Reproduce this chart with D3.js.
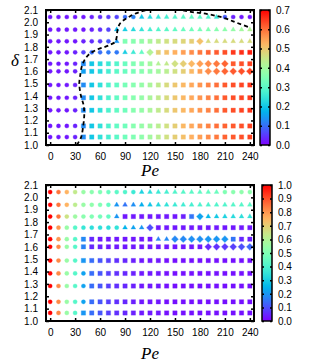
<!DOCTYPE html>
<html>
<head>
<meta charset="utf-8">
<script src="https://cdn.jsdelivr.net/npm/d3@7"></script>
<style>
  body { margin: 0; background: #fff; }
  svg { display: block; }
  .tick text, .cbar text { font-family: "Liberation Sans", Arial, sans-serif; font-size: 10px; fill: #000; }
  .label { font-family: "Liberation Serif", "Times New Roman", serif; font-style: italic; font-size: 17px; }
</style>
</head>
<body>
<svg id="chart" width="311" height="363"></svg>
<script>
// grid of simulations: Pe columns, delta rows (top row first)
const peValues = [0, 10, 20, 30, 40, 50, 60, 70, 80, 90, 100, 110, 120, 130, 140, 150, 160, 170, 180, 190, 200, 210, 220, 230, 240]
const deltaValues = [2.043, 1.94, 1.845, 1.755, 1.662, 1.6, 1.489, 1.385, 1.283, 1.155, 1.065]

const xTicks = [0, 30, 60, 90, 120, 150, 180, 210, 240]
const yTicks = [1.0, 1.1, 1.2, 1.3, 1.4, 1.5, 1.6, 1.7, 1.8, 1.9, 2.0, 2.1]
const cbarTicksTop = [0, 0.1, 0.2, 0.3, 0.4, 0.5, 0.6, 0.7]
const cbarTicksBottom = [0, 0.1, 0.2, 0.3, 0.4, 0.5, 0.6, 0.7, 0.8, 0.9, 1.0]

// marker per point: c circle, t triangle, s square, d diamond
const shapesTop = [
  'ccccc ccccc ctttt ttttt tcccc',
  'ccccc ccctt ttttt ttttt ttttt',
  'ccccc cccts sssss sssdt ttttt',
  'ccccc cccct ttdss sssss sssss',
  'ccccs sssss ssstt ddddd ddsss',
  'ccccs sssss sssss ssssd ddddd',
  'ccccs sssss sssss sssss sssss',
  'ccccs sssss sssss sssss sssss',
  'ccccs sssss sssss sssss sssss',
  'ccccs sssss sssss sssss sssss',
  'ccccs sssss sssss sssss sssss'
]
const shapesBottom = [
  'ccccc ccccc ctttt ttttt tcccc',
  'ccccc ccctt ttttt ttttt ttttt',
  'ccccc cccts sssss sssdt ttttt',
  'ccccc cccct ttdss sssss sssss',
  'ccccs sssss ssstt ddddd ddsss',
  'ccccs sssss sssss ssssd ddddd',
  'ccccs sssss sssss sssss sssss',
  'ccccc sssss sssss sssss sssss',
  'ccccc sssss sssss sssss sssss',
  'ccccc sssss sssss sssss sssss',
  'ccccs sssss sssss sssss sssss'
]

const valuesTop = [
  [0.02, 0.02, 0.02, 0.02, 0.02, 0.03, 0.04, 0.05, 0.06, 0.10, 0.12, 0.20, 0.23, 0.25, 0.27, 0.29, 0.30, 0.31, 0.30, 0.28, 0.25, 0.08, 0.03, 0.02, 0.02],
  [0.02, 0.02, 0.02, 0.02, 0.02, 0.03, 0.04, 0.06, 0.18, 0.21, 0.23, 0.25, 0.27, 0.29, 0.30, 0.31, 0.32, 0.33, 0.34, 0.35, 0.36, 0.37, 0.38, 0.40, 0.42],
  [0.02, 0.02, 0.02, 0.02, 0.03, 0.04, 0.05, 0.08, 0.14, 0.35, 0.36, 0.38, 0.41, 0.44, 0.46, 0.47, 0.48, 0.49, 0.51, 0.47, 0.47, 0.47, 0.47, 0.47, 0.47],
  [0.02, 0.02, 0.02, 0.03, 0.06, 0.10, 0.10, 0.11, 0.11, 0.21, 0.26, 0.31, 0.42, 0.49, 0.51, 0.53, 0.55, 0.57, 0.59, 0.61, 0.62, 0.63, 0.65, 0.66, 0.67],
  [0.02, 0.02, 0.02, 0.03, 0.13, 0.20, 0.23, 0.26, 0.29, 0.32, 0.35, 0.37, 0.40, 0.42, 0.44, 0.46, 0.49, 0.52, 0.55, 0.57, 0.59, 0.61, 0.62, 0.63, 0.64],
  [0.02, 0.02, 0.02, 0.03, 0.15, 0.20, 0.23, 0.27, 0.30, 0.32, 0.34, 0.36, 0.38, 0.40, 0.43, 0.46, 0.49, 0.52, 0.55, 0.57, 0.59, 0.61, 0.62, 0.63, 0.64],
  [0.02, 0.02, 0.02, 0.03, 0.13, 0.20, 0.24, 0.28, 0.31, 0.34, 0.36, 0.38, 0.41, 0.44, 0.47, 0.50, 0.52, 0.54, 0.56, 0.58, 0.60, 0.62, 0.63, 0.64, 0.65],
  [0.02, 0.02, 0.02, 0.03, 0.13, 0.20, 0.24, 0.28, 0.31, 0.34, 0.36, 0.38, 0.41, 0.44, 0.47, 0.50, 0.52, 0.54, 0.56, 0.58, 0.60, 0.62, 0.63, 0.64, 0.65],
  [0.02, 0.02, 0.02, 0.03, 0.13, 0.20, 0.24, 0.28, 0.31, 0.33, 0.36, 0.38, 0.41, 0.44, 0.47, 0.50, 0.52, 0.54, 0.56, 0.58, 0.60, 0.62, 0.63, 0.64, 0.65],
  [0.02, 0.02, 0.02, 0.03, 0.13, 0.20, 0.24, 0.28, 0.31, 0.33, 0.36, 0.38, 0.40, 0.43, 0.46, 0.49, 0.52, 0.54, 0.56, 0.58, 0.60, 0.61, 0.62, 0.63, 0.64],
  [0.02, 0.02, 0.02, 0.03, 0.13, 0.20, 0.24, 0.27, 0.30, 0.33, 0.35, 0.37, 0.40, 0.43, 0.46, 0.49, 0.51, 0.53, 0.55, 0.57, 0.59, 0.61, 0.62, 0.63, 0.64]
]

const valuesBottom = [
  [1.00, 0.85, 0.75, 0.63, 0.55, 0.52, 0.50, 0.46, 0.43, 0.41, 0.37, 0.31, 0.34, 0.37, 0.39, 0.41, 0.42, 0.43, 0.44, 0.45, 0.46, 0.50, 0.52, 0.53, 0.53],
  [1.00, 0.85, 0.75, 0.62, 0.55, 0.53, 0.50, 0.45, 0.20, 0.15, 0.19, 0.24, 0.28, 0.32, 0.35, 0.37, 0.38, 0.39, 0.40, 0.40, 0.41, 0.41, 0.42, 0.42, 0.43],
  [1.00, 0.85, 0.65, 0.56, 0.52, 0.50, 0.48, 0.45, 0.20, 0.03, 0.03, 0.03, 0.03, 0.03, 0.03, 0.03, 0.04, 0.15, 0.22, 0.26, 0.29, 0.31, 0.33, 0.34, 0.35],
  [1.00, 0.80, 0.55, 0.42, 0.36, 0.34, 0.34, 0.34, 0.35, 0.25, 0.22, 0.20, 0.10, 0.03, 0.03, 0.03, 0.03, 0.03, 0.03, 0.03, 0.03, 0.03, 0.03, 0.03, 0.03],
  [1.00, 0.80, 0.55, 0.42, 0.18, 0.05, 0.03, 0.03, 0.03, 0.03, 0.03, 0.03, 0.03, 0.17, 0.18, 0.18, 0.18, 0.19, 0.19, 0.20, 0.20, 0.20, 0.15, 0.05, 0.04],
  [1.00, 0.82, 0.55, 0.42, 0.17, 0.05, 0.04, 0.03, 0.03, 0.03, 0.03, 0.03, 0.03, 0.03, 0.03, 0.03, 0.03, 0.03, 0.03, 0.05, 0.06, 0.07, 0.08, 0.10, 0.13],
  [1.00, 0.82, 0.55, 0.42, 0.20, 0.14, 0.11, 0.08, 0.06, 0.05, 0.04, 0.03, 0.03, 0.03, 0.02, 0.02, 0.02, 0.02, 0.02, 0.02, 0.02, 0.02, 0.02, 0.02, 0.02],
  [1.00, 0.82, 0.55, 0.42, 0.22, 0.14, 0.11, 0.08, 0.06, 0.05, 0.04, 0.03, 0.03, 0.03, 0.02, 0.02, 0.02, 0.02, 0.02, 0.02, 0.02, 0.02, 0.02, 0.02, 0.02],
  [1.00, 0.82, 0.55, 0.42, 0.22, 0.14, 0.11, 0.08, 0.06, 0.05, 0.04, 0.03, 0.03, 0.03, 0.02, 0.02, 0.02, 0.02, 0.02, 0.02, 0.02, 0.02, 0.02, 0.02, 0.02],
  [1.00, 0.82, 0.55, 0.42, 0.22, 0.14, 0.11, 0.08, 0.06, 0.05, 0.04, 0.03, 0.03, 0.03, 0.02, 0.02, 0.02, 0.02, 0.02, 0.02, 0.02, 0.02, 0.02, 0.02, 0.02],
  [1.00, 0.82, 0.55, 0.42, 0.20, 0.14, 0.11, 0.08, 0.06, 0.05, 0.04, 0.03, 0.03, 0.03, 0.02, 0.02, 0.02, 0.02, 0.02, 0.02, 0.02, 0.02, 0.02, 0.02, 0.02]
]

// dashed phase boundary on the top panel
const boundaryPe = [32, 37, 40, 41, 40, 37, 35, 36, 38, 42, 47, 57, 66, 73, 78, 80, 81, 84, 89, 95, 101, 108, 115, 130, 150, 169, 189, 209, 225, 241]
const boundaryDelta = [1.0, 1.06, 1.17, 1.26, 1.33, 1.40, 1.50, 1.56, 1.64, 1.70, 1.74, 1.78, 1.80, 1.82, 1.84, 1.88, 1.94, 1.99, 2.02, 2.045, 2.067, 2.085, 2.097, 2.115, 2.11, 2.085, 2.067, 2.035, 1.994, 1.955]

// matplotlib style "rainbow"
function rainbow(t) {
  const r = Math.min(1, Math.abs(2 * t - 0.5))
  const g = Math.max(0, Math.sin(Math.PI * t))
  const b = Math.max(0, Math.cos(Math.PI * t / 2))
  return d3.rgb(r * 255, g * 255, b * 255).formatHex()
}

const symbols = {
  c: d3.symbol().type(d3.symbolCircle).size(14),
  s: d3.symbol().type(d3.symbolSquare).size(19),
  t: d3.symbol().type(d3.symbolTriangle).size(10),
  d: d3.symbol().type(d3.symbolSquare).size(23)
}

const svg = d3.select('#chart')
const left = 46, right = 254

function drawPanel(cfg) {
  const x = d3.scaleLinear().domain([-5, 245]).range([left, right])
  const y = d3.scaleLinear().domain([1.0, 2.1]).range([cfg.bottom, cfg.top])
  const colour = d3.scaleSequential(rainbow).domain([0, cfg.max])
  const g = svg.append('g').attr('class', cfg.name)

  const clipId = `clip-${cfg.name}`
  g.append('clipPath').attr('id', clipId)
    .append('rect')
      .attr('x', left).attr('y', cfg.top)
      .attr('width', right - left).attr('height', cfg.bottom - cfg.top)

  const points = []
  deltaValues.forEach((delta, i) => {
    const shapes = cfg.shapes[i].replace(/ /g, '')
    peValues.forEach((pe, j) => points.push({ pe, delta, v: cfg.values[i][j], shape: shapes[j] }))
  })

  g.append('g')
    .selectAll('path')
    .data(points)
    .join('path')
      .attr('d', d => symbols[d.shape]())
      .attr('transform', d => `translate(${x(d.pe)},${y(d.delta)})` + (d.shape === 'd' ? ' rotate(45)' : ''))
      .attr('fill', d => colour(d.v))
      .attr('stroke', d => colour(d.v))
      .attr('stroke-opacity', 0.3)
      .attr('stroke-width', 1)

  if (cfg.boundary) {
    g.append('path')
      .datum(d3.zip(boundaryPe, boundaryDelta))
      .attr('clip-path', `url(#${clipId})`)
      .attr('fill', 'none')
      .attr('stroke', '#000')
      .attr('stroke-width', 1.8)
      .attr('stroke-dasharray', '4,3')
      .attr('d', d3.line().curve(d3.curveCatmullRom).x(d => x(d[0])).y(d => y(d[1])))
  }

  // axes with inward ticks on all sides
  g.append('g')
    .attr('transform', `translate(0,${cfg.bottom})`)
    .call(d3.axisBottom(x).tickValues(xTicks).tickSize(-3).tickPadding(8).tickFormat(d3.format('d')))
  g.append('g')
    .attr('transform', `translate(0,${cfg.top})`)
    .call(d3.axisTop(x).tickValues(xTicks).tickSize(-3).tickFormat(''))
  g.append('g')
    .attr('transform', `translate(${left},0)`)
    .call(d3.axisLeft(y).tickValues(yTicks).tickSize(-3).tickPadding(8).tickFormat(d3.format('.1f')))
  g.append('g')
    .attr('transform', `translate(${right},0)`)
    .call(d3.axisRight(y).tickValues(yTicks).tickSize(-3).tickFormat(''))
  g.selectAll('.domain').remove()
  g.selectAll('.tick line').attr('stroke', '#000').attr('stroke-width', 1.5)

  g.append('rect')
    .attr('x', left).attr('y', cfg.top)
    .attr('width', right - left).attr('height', cfg.bottom - cfg.top)
    .attr('fill', 'none').attr('stroke', '#000').attr('stroke-width', 2)

  g.append('text').attr('class', 'label')
    .attr('x', (left + right) / 2).attr('y', cfg.peLabelY)
    .attr('text-anchor', 'middle').text('Pe')
  if (cfg.deltaLabel) {
    g.append('text').attr('class', 'label')
      .attr('x', 15).attr('y', 66)
      .attr('text-anchor', 'middle').text('δ')
  }

  // colour bar
  const cy = d3.scaleLinear().domain([0, cfg.max]).range([cfg.bottom, cfg.top])
  const gradId = `grad-${cfg.name}`
  g.append('linearGradient').attr('id', gradId)
    .attr('x1', 0).attr('y1', 1).attr('x2', 0).attr('y2', 0)
    .selectAll('stop')
    .data(d3.ticks(0, 1, 40))
    .join('stop')
      .attr('offset', d => d)
      .attr('stop-color', d => rainbow(d))
  const cb = g.append('g').attr('class', 'cbar')
  cb.append('rect')
    .attr('x', cfg.cbarX).attr('y', cfg.top)
    .attr('width', 10).attr('height', cfg.bottom - cfg.top)
    .attr('fill', `url(#${gradId})`)
  cb.append('g')
    .attr('transform', `translate(${cfg.cbarX + 10},0)`)
    .call(d3.axisRight(cy).tickValues(cfg.cbarTicks).tickSize(-2).tickPadding(6).tickFormat(d3.format('.1f')))
  cb.append('g')
    .attr('transform', `translate(${cfg.cbarX},0)`)
    .call(d3.axisLeft(cy).tickValues(cfg.cbarTicks).tickSize(-2).tickFormat(''))
  cb.selectAll('.domain').remove()
  cb.selectAll('.tick line').attr('stroke', '#000').attr('stroke-width', 1.5)
  cb.append('rect')
    .attr('x', cfg.cbarX).attr('y', cfg.top)
    .attr('width', 10).attr('height', cfg.bottom - cfg.top)
    .attr('fill', 'none').attr('stroke', '#000').attr('stroke-width', 1.5)
}

drawPanel({ name: 'top', top: 10, bottom: 145, max: 0.7, values: valuesTop, shapes: shapesTop,
  cbarX: 260, cbarTicks: cbarTicksTop, peLabelY: 176, deltaLabel: true, boundary: true })
drawPanel({ name: 'bottom', top: 185, bottom: 321, max: 1.0, values: valuesBottom, shapes: shapesBottom,
  cbarX: 262, cbarTicks: cbarTicksBottom, peLabelY: 359, deltaLabel: false, boundary: false })
</script>
</body>
</html>
